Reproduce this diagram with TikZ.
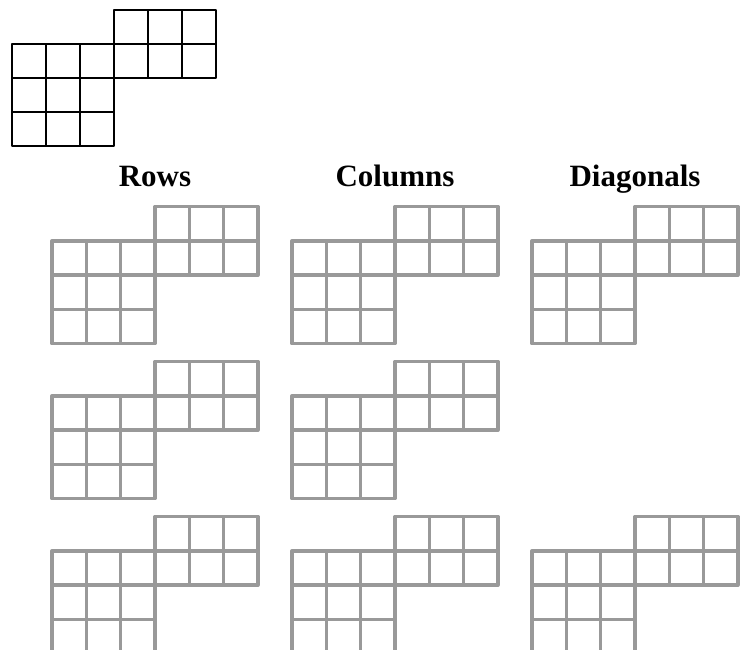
\documentclass[tikz,border=0pt]{standalone}
\usepackage{fontspec}
\setmainfont{Liberation Serif}
\definecolor{gridgray}{RGB}{153,153,153}
\tikzset{
  zgrid/.pic={
    \foreach \c in {3,4,5} {\draw (\c,0) rectangle ++(1,-1);}
    \foreach \c in {0,...,5} {\draw (\c,-1) rectangle ++(1,-1);}
    \foreach \r in {2,3} {\foreach \c in {0,1,2} {\draw (\c,-\r) rectangle ++(1,-1);}}
  },
  blackgrid/.style={line width=2.6pt, draw=black, line join=round, line cap=round},
  graygrid/.style={line width=3.4pt, draw=gridgray, line join=round, line cap=round},
  title/.style={font=\bfseries\fontsize{31}{36}\selectfont, anchor=base, inner sep=0pt}
}
\begin{document}
\begin{tikzpicture}[x=1pt,y=-1pt]
\useasboundingbox (0,0) rectangle (741,650);
% reference shape
\begin{scope}[shift={(12,10)}, x=34pt, y=34pt]
  \pic[blackgrid] {zgrid};
\end{scope}
% titles
\node[title] (rows) at (155,186) {Rows};
\node[title] (cols) at (395,186) {Columns};
\node[title] (diag) at (635,186) {Diagonals};
% gray grids
\foreach \px/\py in {52/206.5, 292/206.5, 532/206.5,
                     52/361.5, 292/361.5,
                     52/516.5, 292/516.5, 532/516.5} {
  \begin{scope}[shift={(\px,\py)}, x=34.3pt, y=34.3pt]
    \pic[graygrid] {zgrid};
  \end{scope}
}
\end{tikzpicture}
\end{document}
